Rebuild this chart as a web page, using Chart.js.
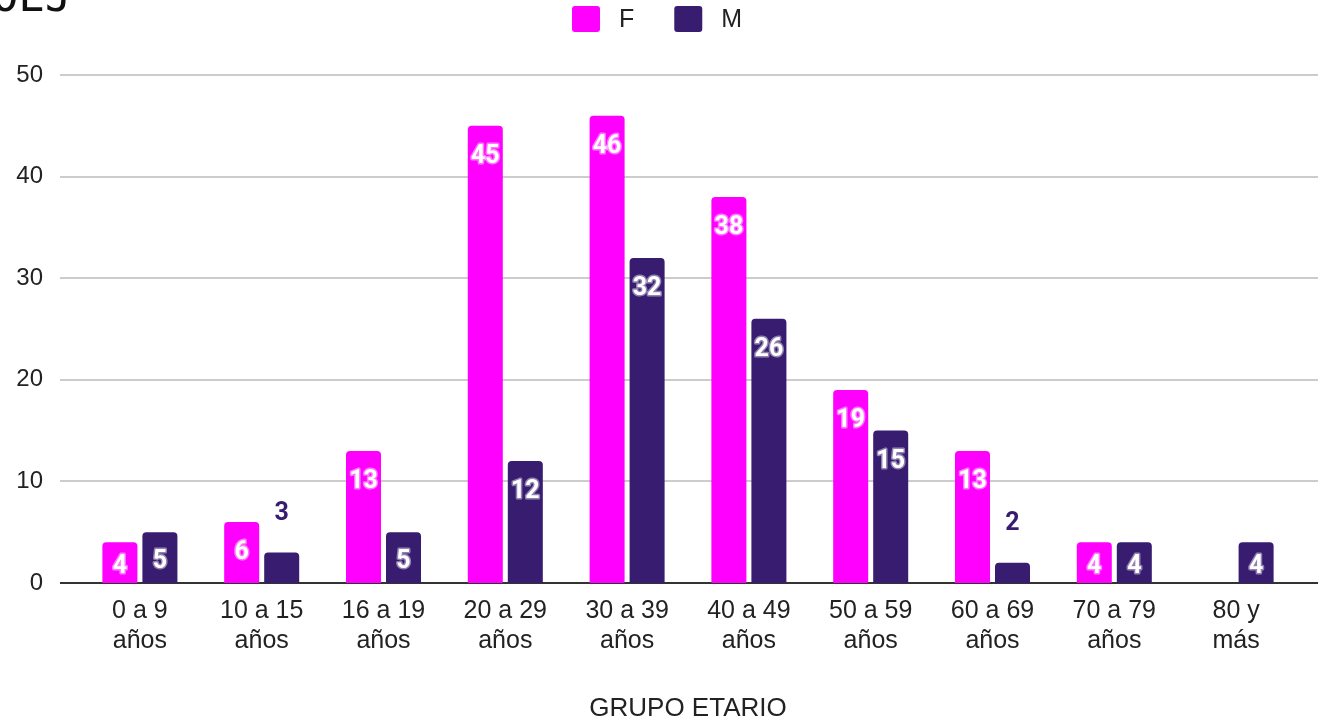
<!DOCTYPE html>
<html>
<head>
<meta charset="utf-8">
<script src="https://cdn.jsdelivr.net/npm/chart.js@4"></script>
<style>
  html, body { margin: 0; padding: 0; background: #fff; }
  canvas { display: block; }
</style>
</head>
<body>
<canvas id="edades" width="1318" height="722"></canvas>
<script>
const grupos = [
  ["0 a 9", "años"], ["10 a 15", "años"], ["16 a 19", "años"], ["20 a 29", "años"],
  ["30 a 39", "años"], ["40 a 49", "años"], ["50 a 59", "años"], ["60 a 69", "años"],
  ["70 a 79", "años"], ["80 y", "más"]
];
const femenino = [4, 6, 13, 45, 46, 38, 19, 13, 4, null];
const masculino = [5, 3, 5, 12, 32, 26, 15, 2, 4, 4];
const yTicks = [0, 10, 20, 30, 40, 50];
const titulo = "OEJ";

const FONT = "'Liberation Sans', Arial, sans-serif";

// horizontal grid drawn across the whole width, beyond the bar area
const gridLines = {
  id: "gridLines",
  beforeDatasetsDraw(chart) {
    const { ctx, scales: { y } } = chart;
    ctx.save();
    yTicks.forEach(v => {
      const py = Math.round(y.getPixelForValue(v));
      ctx.strokeStyle = v === 0 ? "#333333" : "#cccccc";
      ctx.lineWidth = 2;
      ctx.beginPath();
      ctx.moveTo(60, py);
      ctx.lineTo(chart.width, py);
      ctx.stroke();
    });
    ctx.restore();
  }
};

// value labels: inside the bar top, or above it when the bar is short
const barLabels = {
  id: "barLabels",
  afterDatasetsDraw(chart) {
    const { ctx, scales: { y } } = chart;
    const base = y.getPixelForValue(0);
    ctx.save();
    ctx.font = "bold 25px Roboto, " + FONT;
    ctx.textAlign = "center";
    ctx.textBaseline = "middle";
    ctx.lineJoin = "round";
    chart.data.datasets.forEach((ds, di) => {
      chart.getDatasetMeta(di).data.forEach((bar, i) => {
        const v = ds.data[i];
        if (v == null) return;
        const top = bar.y;
        const h = base - top;
        let ly, fill, halo;
        if (h < 36) {
          ly = top - 39;
          fill = ds.backgroundColor;
          halo = "rgba(255,255,255,0.95)";
        } else {
          ly = Math.min(top + 31, (top + base) / 2 + 4);
          fill = "#ffffff";
          halo = "rgba(255,255,255,0.45)";
        }
        ctx.lineWidth = 3;
        ctx.strokeStyle = halo;
        ctx.strokeText(String(v), bar.x, ly);
        ctx.fillStyle = fill;
        ctx.fillText(String(v), bar.x, ly);
      });
    });
    ctx.restore();
  }
};

// legend row at the top, centred on the canvas
const leyenda = {
  id: "leyenda",
  afterDraw(chart) {
    const ctx = chart.ctx;
    const box = 28, boxH = 26, gap = 19, sep = 40;
    ctx.save();
    ctx.font = "25px " + FONT;
    ctx.textBaseline = "middle";
    ctx.textAlign = "left";
    const items = chart.data.datasets.map(ds => ({ text: ds.label, color: ds.backgroundColor,
      w: box + gap + ctx.measureText(ds.label).width }));
    const total = items.reduce((s, it) => s + it.w, 0) + sep * (items.length - 1);
    let x = Math.round(chart.width / 2 - total / 2) - 2;
    items.forEach(it => {
      ctx.fillStyle = it.color;
      ctx.beginPath();
      ctx.roundRect(x, 6, box, boxH, 3);
      ctx.fill();
      ctx.fillStyle = "#222";
      ctx.fillText(it.text, x + box + gap, 20);
      x += it.w + sep;
    });
    ctx.restore();
  }
};

// heading text left over at the top edge
const encabezado = {
  id: "encabezado",
  afterDraw(chart) {
    const ctx = chart.ctx;
    ctx.save();
    ctx.font = "44px 'DejaVu Sans Mono', monospace";
    ctx.fillStyle = "#111";
    ctx.textAlign = "left";
    ctx.textBaseline = "alphabetic";
    ctx.fillText(titulo, -8, 11);
    ctx.restore();
  }
};

new Chart(document.getElementById("edades"), {
  type: "bar",
  data: {
    labels: grupos,
    datasets: [
      { label: "F", data: femenino, backgroundColor: "#ff00ff", borderRadius: 4,
        barPercentage: 0.875, categoryPercentage: 0.657 },
      { label: "M", data: masculino, backgroundColor: "#371c70", borderRadius: 4,
        barPercentage: 0.875, categoryPercentage: 0.657 }
    ]
  },
  options: {
    responsive: false,
    animation: false,
    devicePixelRatio: 1,
    layout: { padding: { left: 10, right: 21, top: 75, bottom: 0 } },
    plugins: {
      legend: { display: false },
      tooltip: { enabled: false }
    },
    scales: {
      x: {
        grid: { display: false, drawTicks: false },
        border: { display: false },
        ticks: { color: "#222", font: { family: FONT, size: 25, lineHeight: 1.2 }, padding: 13, maxRotation: 0 },
        title: { display: true, text: "GRUPO ETARIO", color: "#222",
                 font: { family: FONT, size: 26, lineHeight: 1 }, padding: { top: 40, bottom: 0 } },
        afterFit(scale) { scale.height = 139; }
      },
      y: {
        min: 0, max: 50,
        grid: { display: false, drawTicks: false },
        border: { display: false },
        ticks: { stepSize: 10, color: "#222", font: { family: FONT, size: 24 }, padding: 36 },
        afterFit(scale) { scale.width = 69; }
      }
    }
  },
  plugins: [gridLines, barLabels, leyenda, encabezado]
});
</script>
</body>
</html>
